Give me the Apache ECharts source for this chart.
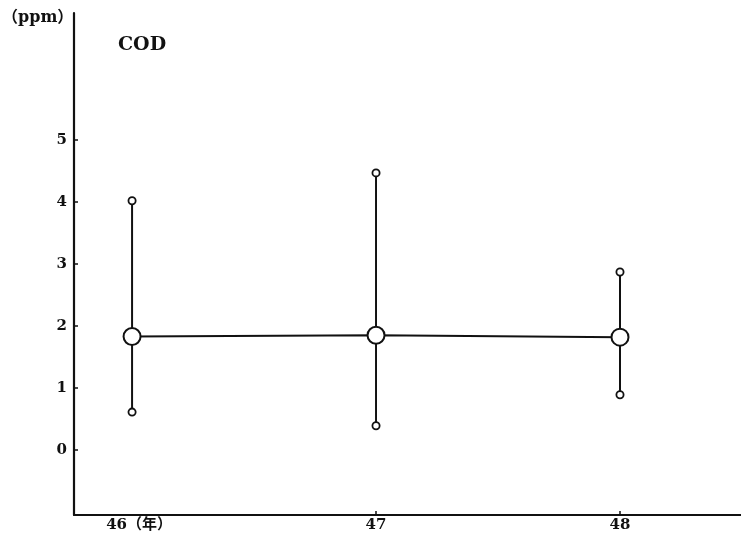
<!DOCTYPE html>
<html>
<head>
<meta charset="utf-8">
<script src="https://cdn.jsdelivr.net/npm/echarts@6/dist/echarts.min.js"></script>
<style>
html, body { margin: 0; padding: 0; background: #fff; }
#chart { width: 741px; height: 536px; }
</style>
</head>
<body>
<div id="chart"></div>
<script>
// COD (ppm) 年ごとの平均・最大・最小
var years = [46, 47, 48];
var yearLabels = ['46（年）', '47', '48'];
var meanValues = [1.83, 1.85, 1.82];
var maxValues = [4.02, 4.47, 2.87];
var minValues = [0.61, 0.39, 0.89];
var yTicks = [0, 1, 2, 3, 4, 5];

var chart = echarts.init(document.getElementById('chart'));

var meanData = [];
var rangeData = [];
for (var i = 0; i < years.length; i++) {
    meanData.push([years[i], meanValues[i]]);
    rangeData.push([years[i], minValues[i], maxValues[i]]);
}

var fontFam = '"DejaVu Serif", "Liberation Serif", "Noto Sans CJK JP", serif';

chart.setOption({
    animation: false,
    backgroundColor: '#fff',
    grid: {
        left: 74,
        right: 0,
        top: 13,
        bottom: 21
    },
    graphic: [
        {
            type: 'text',
            left: 2,
            top: 10,
            style: {
                text: '（ppm）',
                font: 'bold 16px ' + fontFam,
                fill: '#111'
            }
        },
        {
            type: 'text',
            left: 118,
            top: 36,
            style: {
                text: 'COD',
                font: 'bold 19px ' + fontFam,
                fill: '#111'
            }
        }
    ],
    xAxis: {
        type: 'value',
        min: 45.762,
        max: 48.496,
        splitLine: { show: false },
        axisLine: { onZero: false, lineStyle: { color: '#111', width: 2.2 } },
        axisTick: {
            inside: true,
            length: 4,
            customValues: [47, 48],
            lineStyle: { color: '#111', width: 1.5 }
        },
        axisLabel: {
            customValues: years,
            margin: 3,
            color: '#111',
            fontSize: 15,
            fontWeight: 'bold',
            fontFamily: fontFam,
            formatter: function (v) {
                var idx = years.indexOf(Math.round(v));
                if (idx === 0) return '{first|' + yearLabels[idx] + '}';
                return idx >= 0 ? yearLabels[idx] : '';
            },
            rich: {
                first: {
                    padding: [0, 0, 0, 14],
                    fontSize: 15,
                    fontWeight: 'bold',
                    fontFamily: fontFam,
                    color: '#111'
                }
            }
        }
    },
    yAxis: {
        type: 'value',
        min: -1.05,
        max: 7.05,
        splitLine: { show: false },
        axisLine: { onZero: false, lineStyle: { color: '#111', width: 2.2 } },
        axisTick: {
            inside: true,
            length: 4,
            customValues: yTicks,
            lineStyle: { color: '#111', width: 1.5 }
        },
        axisLabel: {
            customValues: yTicks,
            margin: 7,
            color: '#111',
            fontSize: 15,
            fontWeight: 'bold',
            fontFamily: fontFam
        }
    },
    series: [
        {
            type: 'custom',
            name: 'range',
            data: rangeData,
            z: 2,
            renderItem: function (params, api) {
                var x = api.value(0);
                var lo = api.coord([x, api.value(1)]);
                var hi = api.coord([x, api.value(2)]);
                return {
                    type: 'group',
                    children: [
                        {
                            type: 'line',
                            shape: { x1: lo[0], y1: lo[1], x2: hi[0], y2: hi[1] },
                            style: { stroke: '#111', lineWidth: 2 }
                        },
                        {
                            type: 'circle',
                            shape: { cx: lo[0], cy: lo[1], r: 3.6 },
                            style: { fill: '#fff', stroke: '#111', lineWidth: 1.8 }
                        },
                        {
                            type: 'circle',
                            shape: { cx: hi[0], cy: hi[1], r: 3.6 },
                            style: { fill: '#fff', stroke: '#111', lineWidth: 1.8 }
                        }
                    ]
                };
            }
        },
        {
            type: 'line',
            name: 'mean',
            data: meanData,
            z: 3,
            symbol: 'circle',
            symbolSize: 17,
            lineStyle: { color: '#111', width: 2 },
            itemStyle: { color: '#fff', borderColor: '#111', borderWidth: 2 }
        }
    ]
});
</script>
</body>
</html>
